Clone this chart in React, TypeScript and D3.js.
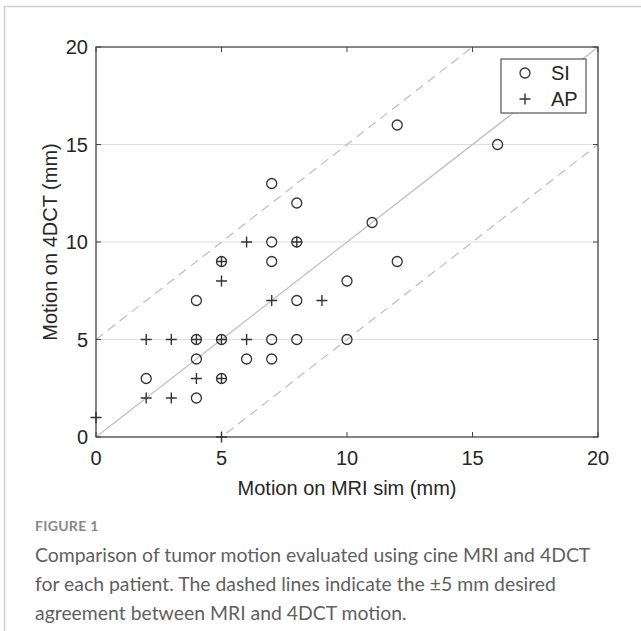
import React, { useEffect, useRef } from 'react';
import * as d3 from 'd3';

// SI motion: x = MRI sim (mm), y = 4DCT (mm)
const siMri = [2, 4, 4, 4, 4, 5, 5, 5, 6, 7, 7, 7, 7, 7, 8, 8, 8, 8, 10, 10, 11, 12, 12, 16];
const siCt = [3, 7, 5, 4, 2, 9, 5, 3, 4, 13, 10, 9, 5, 4, 12, 10, 7, 5, 8, 5, 11, 16, 9, 15];

// AP motion
const apMri = [0, 2, 3, 4, 5, 6, 2, 3, 4, 5, 5, 5, 5, 6, 8, 7, 9];
const apCt = [1, 5, 5, 5, 5, 5, 2, 2, 3, 3, 0, 9, 8, 10, 10, 7, 7];

const axisTicks = [0, 5, 10, 15, 20];
const gridValues = [5, 10, 15];
const bandOffsets = [-5, 5];

const captionLines = [
  'Comparison of tumor motion evaluated using cine MRI and 4DCT',
  'for each patient. The dashed lines indicate the \u00B15 mm desired',
  'agreement between MRI and 4DCT motion.',
];

const W = 641;
const H = 631;
const margin = { left: 96, top: 47, right: 43, bottom: 194 };

const App: React.FC = () => {
  const svgRef = useRef<SVGSVGElement>(null);

  useEffect(() => {
    const svg = d3.select(svgRef.current);
    svg.selectAll('*').remove();

    const x0 = margin.left;
    const x1 = W - margin.right;
    const y0 = H - margin.bottom;
    const y1 = margin.top;

    const x = d3.scaleLinear().domain([0, 20]).range([x0, x1]);
    const y = d3.scaleLinear().domain([0, 20]).range([y0, y1]);

    // card border
    svg.append('path')
      .attr('d', `M4.5,${H} V6.5 H${W}`)
      .attr('fill', 'none')
      .attr('stroke', '#cfcfcf')
      .attr('stroke-width', 1.5);

    svg.append('clipPath').attr('id', 'plot-clip')
      .append('rect')
      .attr('x', x0).attr('y', y1)
      .attr('width', x1 - x0).attr('height', y0 - y1);

    const plot = svg.append('g').attr('clip-path', 'url(#plot-clip)');

    // horizontal grid
    plot.selectAll('line.grid')
      .data(gridValues)
      .join('line')
      .attr('class', 'grid')
      .attr('x1', x0).attr('x2', x1)
      .attr('y1', d => y(d)).attr('y2', d => y(d))
      .attr('stroke', '#dedede')
      .attr('stroke-width', 1.2);

    // identity line
    plot.append('line')
      .attr('x1', x(0)).attr('y1', y(0))
      .attr('x2', x(20)).attr('y2', y(20))
      .attr('stroke', '#bdbdbd')
      .attr('stroke-width', 1.2);

    // +/- 5 mm dashed lines
    plot.selectAll('line.band')
      .data(bandOffsets)
      .join('line')
      .attr('class', 'band')
      .attr('x1', x(0)).attr('y1', d => y(0 + d))
      .attr('x2', x(20)).attr('y2', d => y(20 + d))
      .attr('stroke', '#bdbdbd')
      .attr('stroke-width', 1.2)
      .attr('stroke-dasharray', '9,6');

    // axes box
    svg.append('rect')
      .attr('x', x0).attr('y', y1)
      .attr('width', x1 - x0).attr('height', y0 - y1)
      .attr('fill', 'none')
      .attr('stroke', '#444')
      .attr('stroke-width', 1.3);

    // inward ticks on all sides
    const tl = 5;
    const tg = svg.append('g').attr('stroke', '#444').attr('stroke-width', 1);
    axisTicks.forEach(t => {
      tg.append('line').attr('x1', x(t)).attr('x2', x(t)).attr('y1', y0).attr('y2', y0 - tl);
      tg.append('line').attr('x1', x(t)).attr('x2', x(t)).attr('y1', y1).attr('y2', y1 + tl);
      tg.append('line').attr('y1', y(t)).attr('y2', y(t)).attr('x1', x0).attr('x2', x0 + tl);
      tg.append('line').attr('y1', y(t)).attr('y2', y(t)).attr('x1', x1).attr('x2', x1 - tl);
    });

    const font = "'Liberation Sans', Arial, Helvetica, sans-serif";
    const fs = 20;

    svg.append('g').selectAll('text')
      .data(axisTicks)
      .join('text')
      .attr('x', d => x(d))
      .attr('y', y0 + 28)
      .attr('text-anchor', 'middle')
      .attr('font-family', font)
      .attr('font-size', fs)
      .attr('fill', '#262626')
      .text(d => d);

    svg.append('g').selectAll('text')
      .data(axisTicks)
      .join('text')
      .attr('x', x0 - 8)
      .attr('y', d => y(d) + 7)
      .attr('text-anchor', 'end')
      .attr('font-family', font)
      .attr('font-size', fs)
      .attr('fill', '#262626')
      .text(d => d);

    svg.append('text')
      .attr('x', (x0 + x1) / 2)
      .attr('y', y0 + 58)
      .attr('text-anchor', 'middle')
      .attr('font-family', font)
      .attr('font-size', fs)
      .attr('fill', '#262626')
      .text('Motion on MRI sim (mm)');

    svg.append('text')
      .attr('transform', `translate(57,${(y0 + y1) / 2}) rotate(-90)`)
      .attr('text-anchor', 'middle')
      .attr('font-family', font)
      .attr('font-size', fs)
      .attr('fill', '#262626')
      .text('Motion on 4DCT (mm)');

    const r = 5;
    const p = 5.5;
    const markColor = '#333';

    const drawCircle = (g: d3.Selection<SVGGElement, unknown, null, undefined>, cx: number, cy: number) => {
      g.append('circle')
        .attr('cx', cx).attr('cy', cy).attr('r', r)
        .attr('fill', 'none')
        .attr('stroke', markColor)
        .attr('stroke-width', 1.3);
    };
    const drawPlus = (g: d3.Selection<SVGGElement, unknown, null, undefined>, cx: number, cy: number) => {
      g.append('path')
        .attr('d', `M${cx - p},${cy} H${cx + p} M${cx},${cy - p} V${cy + p}`)
        .attr('stroke', markColor)
        .attr('stroke-width', 1.4);
    };

    const marks = svg.append('g');
    siMri.forEach((v, i) => drawCircle(marks, x(v), y(siCt[i])));
    apMri.forEach((v, i) => drawPlus(marks, x(v), y(apCt[i])));

    // legend
    const lg = svg.append('g');
    lg.append('rect')
      .attr('x', 501).attr('y', 59)
      .attr('width', 85).attr('height', 54)
      .attr('fill', '#fff')
      .attr('stroke', '#333')
      .attr('stroke-width', 1);
    drawCircle(lg, 525, 73);
    drawPlus(lg, 525, 99);
    lg.append('text').attr('x', 551).attr('y', 80)
      .attr('font-family', font).attr('font-size', fs).attr('fill', '#262626').text('SI');
    lg.append('text').attr('x', 551).attr('y', 106)
      .attr('font-family', font).attr('font-size', fs).attr('fill', '#262626').text('AP');

    // caption
    svg.append('text')
      .attr('x', 35).attr('y', 531)
      .attr('font-family', 'Lato, Open Sans, sans-serif')
      .attr('font-size', 14)
      .attr('font-weight', 'bold')
      .attr('fill', '#888')
      .attr('letter-spacing', 0.3)
      .text('FIGURE 1');

    svg.append('g').selectAll('text')
      .data(captionLines)
      .join('text')
      .attr('x', 35)
      .attr('y', (d, i) => 562 + i * 29)
      .attr('font-family', 'Lato, Open Sans, sans-serif')
      .attr('font-size', 19.4)
      .attr('fill', '#5f5f5f')
      .text(d => d);
  }, []);

  return (
    <svg
      ref={svgRef}
      width={W}
      height={H}
      style={{ position: 'absolute', left: 0, top: 0, background: '#fff' }}
    />
  );
};

export default App;
